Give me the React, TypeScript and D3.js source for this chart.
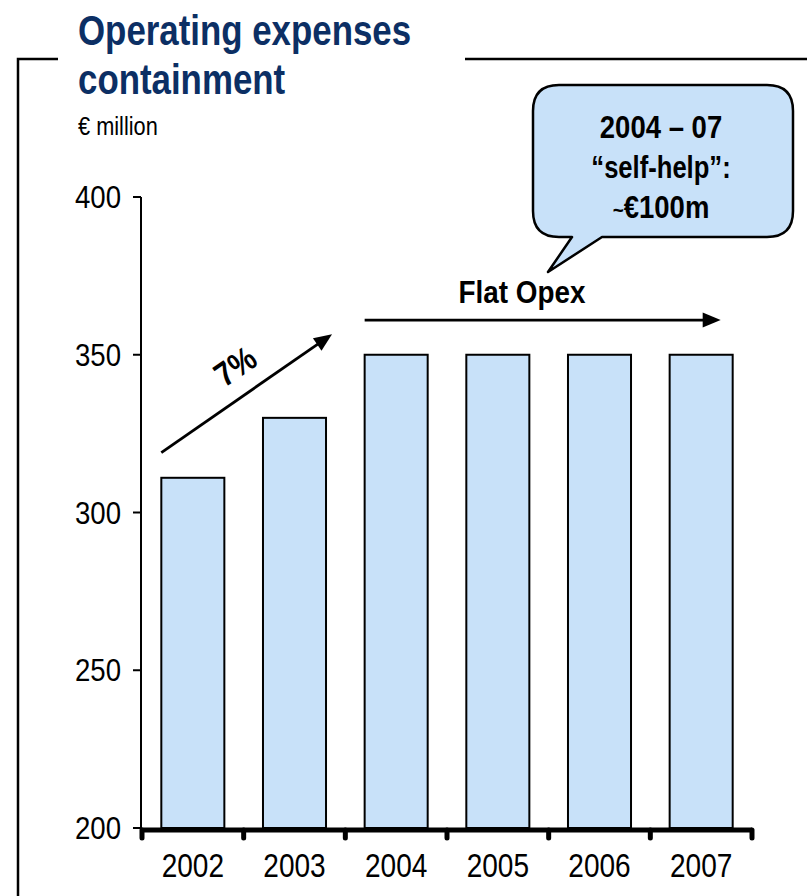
import React from "react";
import * as d3 from "d3";

const years = ["2002", "2003", "2004", "2005", "2006", "2007"];
const opex = [311, 330, 350, 350, 350, 350];
const yTicks = [200, 250, 300, 350, 400];

const W = 807;
const H = 896;
const FONT = "'Liberation Sans', Arial, sans-serif";
const NAVY = "#0c2f64";
const BAR = "#c8e1f9";

type NTProps = {
  x: number;
  y: number;
  size: number;
  sx: number;
  anchor?: "start" | "middle" | "end";
  weight?: string;
  fill?: string;
  dy?: string;
  rotate?: number;
  children: React.ReactNode;
};

const NT = ({ x, y, size, sx, anchor = "start", weight = "normal", fill = "#000", dy, rotate = 0, children }: NTProps) => (
  <text
    transform={`translate(${x},${y}) rotate(${rotate}) scale(${sx},1)`}
    fontFamily={FONT}
    fontSize={size}
    fontWeight={weight}
    textAnchor={anchor}
    fill={fill}
    dy={dy}
  >
    {children}
  </text>
);

export default function App() {
  const x = d3.scaleBand<string>().domain(years).range([142, 752]).padding(0);
  const y = d3.scaleLinear().domain([200, 400]).range([828, 197]);
  const bw = x.bandwidth() * 0.62;
  const off = (x.bandwidth() - bw) / 2;

  // 7% arrow
  const a1x0 = (x("2002") as number) + off;
  const a1y0 = y(319);
  const a1x1 = (x("2003") as number) + off + bw + 6;
  const a1y1 = y(356.5);
  const angR = Math.atan2(a1y1 - a1y0, a1x1 - a1x0);
  const ang = (angR * 180) / Math.PI;

  // Flat Opex arrow
  const a2x0 = (x("2004") as number) + off;
  const a2x1 = (x("2007") as number) + off + bw - 12;
  const a2y = y(361);

  const head = (x1: number, y1: number, x0: number, y0: number, len = 18, wid = 7.5) => {
    const t = Math.atan2(y1 - y0, x1 - x0);
    const bx = x1 - len * Math.cos(t);
    const by = y1 - len * Math.sin(t);
    const px = -Math.sin(t) * wid;
    const py = Math.cos(t) * wid;
    return `M${x1},${y1}L${bx + px},${by + py}L${bx - px},${by - py}Z`;
  };

  // callout
  const L = 533, R = 793, T = 85, B = 237, r = 26;
  const pb0 = 572, pb1 = 602, tipX = 548, tipY = 272;
  const callout = `M${L + r},${T}H${R - r}Q${R},${T} ${R},${T + r}V${B - r}Q${R},${B} ${R - r},${B}H${pb1}L${tipX},${tipY}L${pb0},${B}H${L + r}Q${L},${B} ${L},${B - r}V${T + r}Q${L},${T} ${L + r},${T}Z`;
  const cx = (L + R) / 2 - 2;

  const ticksX = [...years.map((d) => x(d) as number), 752];

  return (
    <svg width={W} height={H} style={{ position: "absolute", left: 0, top: 0, background: "#fff" }}>
      {/* frame */}
      <path d="M18,896V59H58" fill="none" stroke="#000" strokeWidth={2.5} />
      <line x1={465} x2={807} y1={59} y2={59} stroke="#000" strokeWidth={2.5} />

      {/* title */}
      <NT x={78} y={45} size={42} sx={0.83} weight="bold" fill={NAVY}>
        Operating expenses
      </NT>
      <NT x={78} y={94} size={42} sx={0.83} weight="bold" fill={NAVY}>
        containment
      </NT>
      <NT x={78} y={135} size={25} sx={0.87}>
        € million
      </NT>

      {/* bars */}
      {years.map((d, i) => (
        <rect
          key={d}
          x={(x(d) as number) + off}
          y={y(opex[i])}
          width={bw}
          height={y(200) - y(opex[i])}
          fill={BAR}
          stroke="#000"
          strokeWidth={2}
        />
      ))}

      {/* y axis */}
      <line x1={141} x2={141} y1={y(400)} y2={y(200)} stroke="#000" strokeWidth={2} />
      {yTicks.map((t) => (
        <g key={t}>
          <line x1={133} x2={141} y1={y(t)} y2={y(t)} stroke="#000" strokeWidth={2} />
          <NT x={121} y={y(t)} size={31} sx={0.89} anchor="end" dy="0.36em">
            {t}
          </NT>
        </g>
      ))}

      {/* x axis */}
      <line x1={142} x2={752} y1={y(200) + 2} y2={y(200) + 2} stroke="#000" strokeWidth={5} />
      {ticksX.map((tx, i) => (
        <line key={i} x1={tx} x2={tx} y1={y(200) + 2} y2={y(200) + 10} stroke="#000" strokeWidth={5} strokeLinecap="round" />
      ))}
      {years.map((d) => (
        <NT key={d} x={(x(d) as number) + x.bandwidth() / 2} y={877} size={33} sx={0.85} anchor="middle">
          {d}
        </NT>
      ))}

      {/* 7% arrow */}
      <line
        x1={a1x0}
        y1={a1y0}
        x2={a1x1 - 12 * Math.cos(angR)}
        y2={a1y1 - 12 * Math.sin(angR)}
        stroke="#000"
        strokeWidth={2.8}
      />
      <path d={head(a1x1, a1y1, a1x0, a1y0)} fill="#000" />
      <NT x={235} y={366} size={34} sx={0.86} weight="bold" anchor="middle" rotate={ang} dy="0.36em">
        7%
      </NT>

      {/* Flat Opex arrow */}
      <line x1={a2x0} y1={a2y} x2={a2x1 - 12} y2={a2y} stroke="#000" strokeWidth={2.8} />
      <path d={head(a2x1, a2y, a2x0, a2y)} fill="#000" />
      <NT x={522} y={303} size={32} sx={0.87} weight="bold" anchor="middle">
        Flat Opex
      </NT>

      {/* callout */}
      <path d={callout} fill={BAR} stroke="#000" strokeWidth={2.5} strokeLinejoin="round" />
      <NT x={cx} y={138} size={32} sx={0.86} weight="bold" anchor="middle">
        2004 – 07
      </NT>
      <NT x={cx} y={178} size={32} sx={0.8} weight="bold" anchor="middle">
        “self-help”:
      </NT>
      <NT x={cx} y={218} size={32} sx={0.86} weight="bold" anchor="middle">
        <tspan fontSize={22}>~</tspan>€100m
      </NT>
    </svg>
  );
}
